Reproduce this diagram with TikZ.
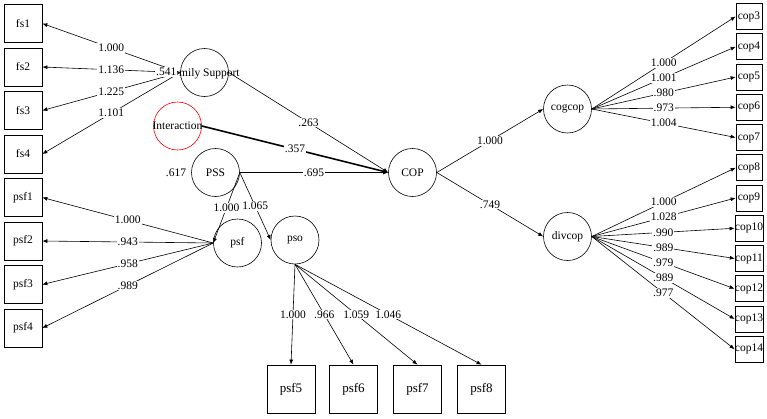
\documentclass[tikz,border=0pt]{standalone}
\usepackage{fontspec}
\setmainfont{Liberation Serif}
\usetikzlibrary{arrows.meta}
\begin{document}
\begin{tikzpicture}[x=1pt,y=-1pt,
  every node/.style={font=\fontsize{11.5}{13}\selectfont},
  lat/.style={circle,draw,line width=0.6pt,minimum size=48pt,inner sep=0pt},
  obs/.style={rectangle,draw,line width=0.7pt,minimum width=38pt,minimum height=38pt,inner sep=0pt},
  obsr/.style={rectangle,draw,line width=0.7pt,minimum width=26pt,minimum height=26pt,inner sep=0pt},
  obsb/.style={rectangle,draw,line width=0.7pt,minimum size=48pt,inner sep=0pt,font=\fontsize{13}{15}\selectfont},
  lbl/.style={fill=white,inner sep=1pt},
  arr/.style={-{Latex[length=5pt,width=4pt]},line width=0.6pt},
]
\useasboundingbox (0,0) rectangle (767,418);
% latent variables
\node[lat] (FS) at (204.5,72.5) {};
\node[anchor=west,inner sep=0pt] (FStext) at (179,73.5) {mily Support};
\node[lat,draw=red] (INT) at (177.5,126) {\makebox[0pt]{Interaction}};
\node[lat] (PSS) at (215.5,172.5) {PSS};
\node[lat] (PSF) at (237.5,243) {psf};
\node[lat] (PSO) at (295,240) {pso};
\node[lat] (COP) at (412.5,172.5) {COP};
\node[lat] (COG) at (567.5,109) {cogcop};
\node[lat] (DIV) at (567.5,236.5) {divcop};
% left indicators
\foreach \n/\k in {fs1/0,fs2/1,fs3/2,fs4/3,psf1/4,psf2/5,psf3/6,psf4/7}
  \node[obs] (\n) at (23,23.5+43.5*\k) {\n};
% right indicators
\foreach \k in {3,...,14}
  \node[obsr] (cop\k) at (749,16.5+30.25*\k-90.75) {cop\k};
% bottom indicators
\node[obsb] (psf5) at (291,389) {psf5};
\node[obsb] (psf6) at (353.5,389) {psf6};
\node[obsb] (psf7) at (417.5,389) {psf7};
\node[obsb] (psf8) at (481.5,389) {psf8};
% family support loadings
\draw[arr] (FS.west) -- node[lbl]{1.000} (fs1.east);
\draw[arr] (FS.west) -- node[lbl]{1.136} (fs2.east);
\draw[arr] (FS.west) -- node[lbl]{1.225} (fs3.east);
\draw[arr] (FS.west) -- node[lbl]{1.101} (fs4.east);
\node[lbl,anchor=east] (v541) at (177.5,72) {.541};
% psf loadings
\draw[arr] (PSF.west) -- node[lbl]{1.000} (psf1.east);
\draw[arr] (PSF.west) -- node[lbl]{.943} (psf2.east);
\draw[arr] (PSF.west) -- node[lbl]{.958} (psf3.east);
\draw[arr] (PSF.west) -- node[lbl]{.989} (psf4.east);
% pso loadings
\draw[arr] (PSO.south) -- node[lbl]{1.000} (psf5.north);
\draw[arr] (PSO.south) -- node[lbl]{.966} (psf6.north);
\draw[arr] (PSO.south) -- node[lbl]{1.059} (psf7.north);
\draw[arr] (PSO.south) -- node[lbl]{1.046} (psf8.north);
% PSS second order
\draw[arr] (PSS.east) -- node[lbl]{1.000} (PSF.west);
\draw[arr] (PSS.east) -- node[lbl]{1.065} (PSO.west);
\node (v617) at (176,173) {.617};
% structural paths
\draw[arr] (FS.east) -- node[lbl]{.263} (COP.west);
\draw[arr,line width=1.6pt] (INT.east) -- node[lbl]{.357} (COP.west);
\draw[arr] (PSS.east) -- node[lbl]{.695} (COP.west);
% COP second order
\draw[arr] (COP.east) -- node[lbl]{1.000} (COG.west);
\draw[arr] (COP.east) -- node[lbl]{.749} (DIV.west);
% cogcop loadings
\draw[arr] (COG.east) -- node[lbl]{1.000} (cop3.west);
\draw[arr] (COG.east) -- node[lbl]{1.001} (cop4.west);
\draw[arr] (COG.east) -- node[lbl]{.980} (cop5.west);
\draw[arr] (COG.east) -- node[lbl]{.973} (cop6.west);
\draw[arr] (COG.east) -- node[lbl]{1.004} (cop7.west);
% divcop loadings
\draw[arr] (DIV.east) -- node[lbl]{1.000} (cop8.west);
\draw[arr] (DIV.east) -- node[lbl]{1.028} (cop9.west);
\draw[arr] (DIV.east) -- node[lbl]{.990} (cop10.west);
\draw[arr] (DIV.east) -- node[lbl]{.989} (cop11.west);
\draw[arr] (DIV.east) -- node[lbl]{.979} (cop12.west);
\draw[arr] (DIV.east) -- node[lbl]{.989} (cop13.west);
\draw[arr] (DIV.east) -- node[lbl]{.977} (cop14.west);
\end{tikzpicture}
\end{document}
